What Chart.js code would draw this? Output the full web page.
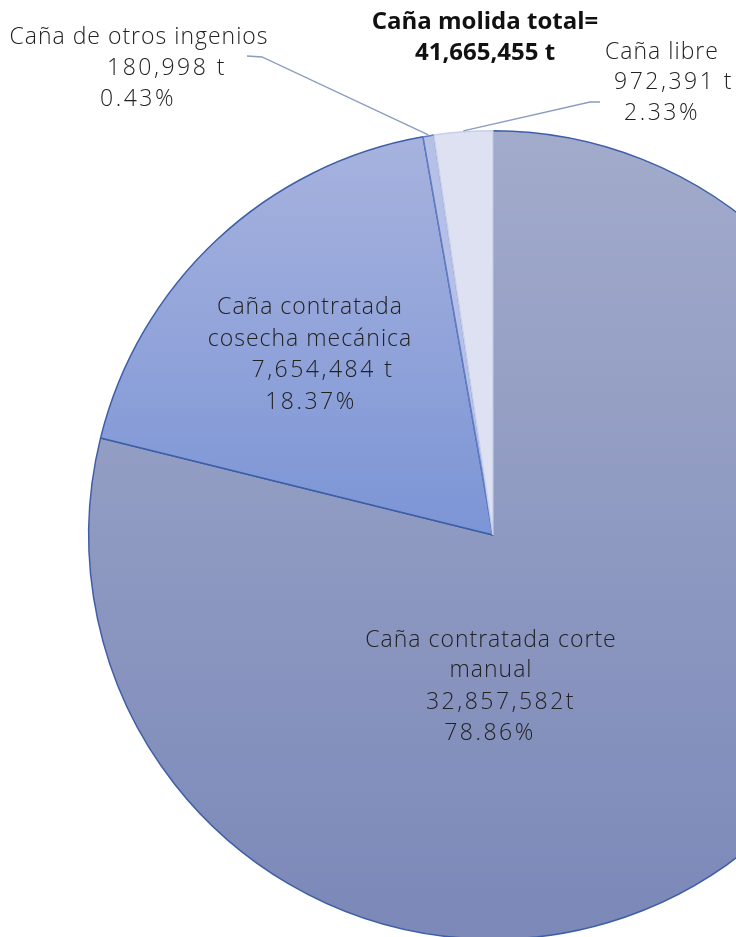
<!DOCTYPE html>
<html>
<head>
<meta charset="utf-8">
<script src="https://cdn.jsdelivr.net/npm/chart.js@4.4.1/dist/chart.umd.min.js"></script>
<style>
  html, body { margin: 0; padding: 0; background: #fff; overflow: hidden; }
  #wrap { position: relative; width: 736px; height: 937px; overflow: hidden; }
  canvas { position: absolute; left: 0; top: 0; }
</style>
</head>
<body>
<div id="wrap">
  <canvas id="canaChart" width="986" height="1070"></canvas>
</div>
<script>
// Caña molida por origen
var categorias = ['Caña contratada corte manual', 'Caña contratada cosecha mecánica', 'Caña de otros ingenios', 'Caña libre'];
var toneladas = [32857582, 7654484, 180998, 972391];
var porcentajes = ['78.86%', '18.37%', '0.43%', '2.33%'];
var textoToneladas = ['32,857,582t', '7,654,484 t', '180,998 t', '972,391 t'];
var titulo = ['Caña molida total=', '41,665,455 t'];

// label lines per slice (name lines, then tonnage, then percent)
var nombres = [
    ['Caña contratada corte', 'manual'],
    ['Caña contratada', 'cosecha mecánica'],
    ['Caña de otros ingenios'],
    ['Caña libre']
];

// where each label block goes (page pixels)
var etiquetas = [
    { lines: [[491, 640], [491, 670], [501, 702], [490, 733]] },
    { lines: [[310, 307], [310, 339], [323, 370], [311, 402]] },
    { lines: [[139, 37], [167, 68], [138, 99]], leader: [[247, 56], [262, 57]] },
    { lines: [[662, 52], [674, 82], [662, 113]], leader: [[600, 102], [590, 102]] }
];

var FONT = '"Open Sans", "Noto Sans", sans-serif';

var etiquetasPlugin = {
    id: 'etiquetas',
    afterDatasetsDraw: function(chart) {
        var ctx = chart.ctx;
        var arcs = chart.getDatasetMeta(0).data;
        ctx.save();
        ctx.textAlign = 'center';
        ctx.textBaseline = 'middle';
        ctx.fillStyle = '#222';
        ctx.font = '300 23px ' + FONT;
        etiquetas.forEach(function(et, i) {
            var n = nombres[i].length;
            var texts = nombres[i].concat([textoToneladas[i], porcentajes[i]]);
            texts.forEach(function(t, j) {
                var p = et.lines[j];
                ctx.letterSpacing = j < n ? '1px' : '2.5px';
                ctx.fillText(t, p[0], p[1]);
            });
            if (et.leader) {
                var a = arcs[i];
                var mid = (a.startAngle + a.endAngle) / 2;
                var ex = a.x + Math.cos(mid) * (a.outerRadius + 1);
                var ey = a.y + Math.sin(mid) * (a.outerRadius + 1);
                ctx.beginPath();
                ctx.strokeStyle = '#8a9cc0';
                ctx.lineWidth = 1.3;
                ctx.moveTo(et.leader[0][0], et.leader[0][1]);
                ctx.lineTo(et.leader[1][0], et.leader[1][1]);
                ctx.lineTo(ex, ey);
                ctx.stroke();
            }
        });
        ctx.letterSpacing = '0px';
        ctx.font = 'bold 24px ' + FONT;
        ctx.fillStyle = '#111';
        ctx.fillText(titulo[0], 485, 22);
        ctx.fillText(titulo[1], 485, 53);
        ctx.restore();
    }
};

function relleno(context) {
    var chart = context.chart;
    var area = chart.chartArea;
    if (!area) return '#9aa4c6';
    var ctx = chart.ctx;
    var i = context.dataIndex;
    var g;
    if (i === 0) {
        g = ctx.createLinearGradient(0, area.top, 0, area.bottom);
        g.addColorStop(0, '#a2abcb');
        g.addColorStop(1, '#7b88b8');
        return g;
    }
    if (i === 1) {
        var midY = (area.top + area.bottom) / 2;
        g = ctx.createLinearGradient(0, area.top, 0, midY);
        g.addColorStop(0, '#a8b3de');
        g.addColorStop(1, '#7c95d6');
        return g;
    }
    if (i === 2) return '#b6c0e6';
    return '#dde1f1';
}

document.addEventListener('DOMContentLoaded', function() {
    var ctx = document.getElementById('canaChart').getContext('2d');

    var config = {
        type: 'pie',
        data: {
            labels: categorias,
            datasets: [{
                data: toneladas,
                backgroundColor: relleno,
                borderColor: ['#3d5ea8', '#3d5ea8', '#5f7cc4', '#c9d0ea'],
                borderWidth: 1.5
            }]
        },
        options: {
            responsive: false,
            maintainAspectRatio: false,
            animation: false,
            layout: { padding: { left: 88, right: 88, top: 130, bottom: 130 } },
            plugins: {
                legend: { display: false },
                tooltip: { enabled: false }
            }
        },
        plugins: [etiquetasPlugin]
    };

    var canaChart = new Chart(ctx, config);
});
</script>
</body>
</html>
